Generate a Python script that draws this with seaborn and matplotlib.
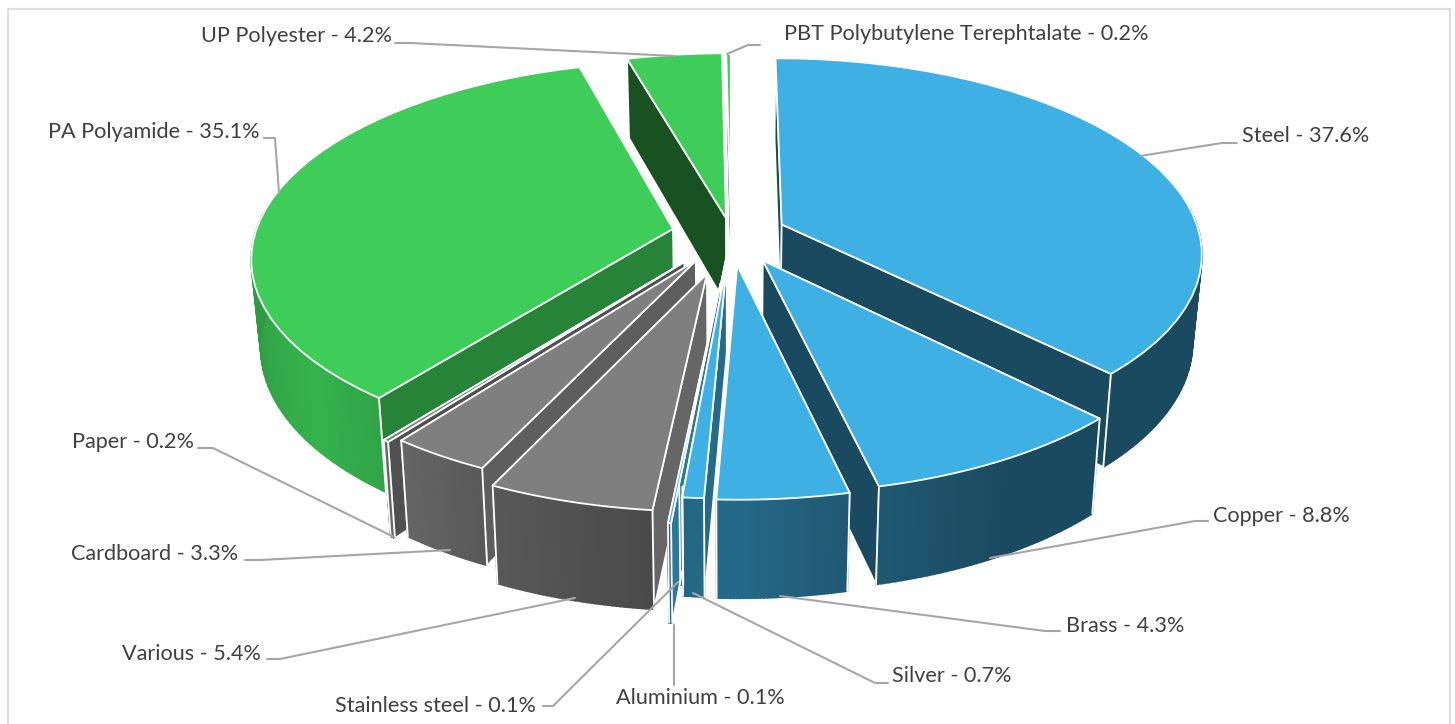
import numpy as np
import matplotlib
matplotlib.use("Agg")
import matplotlib.pyplot as plt
import seaborn as sns

# data
names = ["Steel", "Copper", "Brass", "Silver", "Aluminium", "Stainless steel", "Various",
         "Cardboard", "Paper", "PA Polyamide", "UP Polyester", "PBT Polybutylene Terephtalate"]
values = [37.6, 8.8, 4.3, 0.7, 0.1, 0.1, 5.4, 3.3, 0.2, 35.1, 4.2, 0.2]

# style per slice
blue, orange, gray, green = sns.color_palette(["#3EB0E4", "#ED7D31", "#7F7F7F", "#3DCD58"])
colors = [blue, blue, blue, blue, orange, blue, gray, gray, gray, green, green, green]
explode = [.132, .155, .16, .155, .115, .25, .21, .16, .18, .142, .085, .08]
side_shade = [.42, .42, .83, .6, .6, .68, .8, .74, .63, .64, .4, .4]
draw_order = [11, 10, 0, 9, 1, 8, 7, 4, 6, 5, 2, 3]

# label layout in pixels: left x, centre y, then leader line
label_pos = [(1242, 136.5), (1213, 515.5), (1066, 625.5), (892, 676.5), (616, 698.5), (335, 705.5),
             (122, 653.5), (71, 554.5), (72, 442.5), (48, 131.5), (201, 36.5), (784, 33.5)]
leaders = [[(1237, 143), (1222, 143), (1140, 156)],
           [(1208, 521), (1195, 521), (990, 558)],
           [(1060, 631), (1045, 631), (780, 596)],
           [(888, 683), (875, 683), (693, 593)],
           [(674, 685), (674, 625)],
           [(543, 706), (553, 706), (678, 582)],
           [(267, 659), (280, 659), (575, 598)],
           [(245, 560), (260, 560), (450, 550)],
           [(198, 448), (213, 448), (394, 537)],
           [(264, 138), (275, 138), (279, 193)],
           [(395, 43), (410, 43), (675, 56)],
           [(760, 45), (748, 45), (727, 54)]]

# camera
cx, cy = 731, 234
rx, ry = 418, 192
persp = .14
depth = 87
shrink = .98


def project(X, Y, low=False):
    w = 1 + persp * Y
    x = cx + rx * X / w
    y = cy - ry * Y / w
    if low:
        x = cx + (x - cx) * shrink
        y = cy + (y - cy) * shrink + depth / w
    return x, y


def wall_shade(theta):
    return np.interp(theta, [98, 150, 167, 180, 186, 205, 217, 230, 263],
                     [.42, .42, .5, .6, .58, .7, .8, .87, .75])


sns.set_theme(style="white")
plt.rcParams["font.family"] = ["Lato", "DejaVu Sans"]

fig = plt.figure(figsize=(14.55, 7.24), dpi=100)
ax = fig.add_axes([0, 0, 1, 1])
ax.set_xlim(0, 1455)
ax.set_ylim(724, 0)
ax.axis("off")

# chart frame
ax.plot([8, 8, 1450, 1450], [724, 9, 9, 724], color="#DDDDDD", lw=1.5)

edges = np.concatenate([[0], np.cumsum(values)]) / np.sum(values) * 360

for i in draw_order:
    t0, t1 = edges[i], edges[i + 1]
    mid = np.radians((t0 + t1) / 2)
    ox, oy = explode[i] * np.sin(mid), explode[i] * np.cos(mid)
    col = np.array(colors[i])
    ang = np.linspace(t0, t1, 40)
    X = ox + np.sin(np.radians(ang))
    Y = oy + np.cos(np.radians(ang))

    # radial side faces, hidden one first
    ends = [0, -1] if (t0 + t1) / 2 < 180 else [-1, 0]
    for e in ends:
        xa, ya = project(ox, oy)
        xb, yb = project(X[e], Y[e])
        xc, yc = project(X[e], Y[e], True)
        xd, yd = project(ox, oy, True)
        ax.fill([xa, xb, xc, xd], [ya, yb, yc, yd], color=col * side_shade[i],
                ec="white", lw=1.2, joinstyle="round")

    # outer wall as thin strips for the gradient
    lo, hi = max(t0, 85), min(t1, 275)
    if hi > lo:
        front = np.linspace(lo, hi, 40)
        wx = ox + np.sin(np.radians(front))
        wy = oy + np.cos(np.radians(front))
        xt, yt = project(wx, wy)
        xl, yl = project(wx, wy, True)
        for j in range(len(front) - 1):
            ax.fill([xt[j], xt[j + 1], xl[j + 1], xl[j]], [yt[j], yt[j + 1], yl[j + 1], yl[j]],
                    color=col * wall_shade(front[j]), lw=1.2)
        if lo == t0:
            ax.plot([xt[0], xl[0]], [yt[0], yl[0]], color="white", lw=1.3)
        if hi == t1:
            ax.plot([xt[-1], xl[-1]], [yt[-1], yl[-1]], color="white", lw=1.3)

    # top face
    xa, ya = project(ox, oy)
    xs, ys = project(X, Y)
    ax.fill(np.r_[xa, xs], np.r_[ya, ys], facecolor=col, edgecolor="white", lw=1.3, joinstyle="round")

# labels and leader lines
for name, val, pos, line in zip(names, values, label_pos, leaders):
    lx, ly = zip(*line)
    ax.plot(lx, ly, color="#A6A6A6", lw=1.5, solid_capstyle="round")
    ax.text(pos[0], pos[1], f"{name} - {val}%", fontsize=15.6, color="#404040", ha="left", va="center")

fig.savefig("out.png", dpi=100)
